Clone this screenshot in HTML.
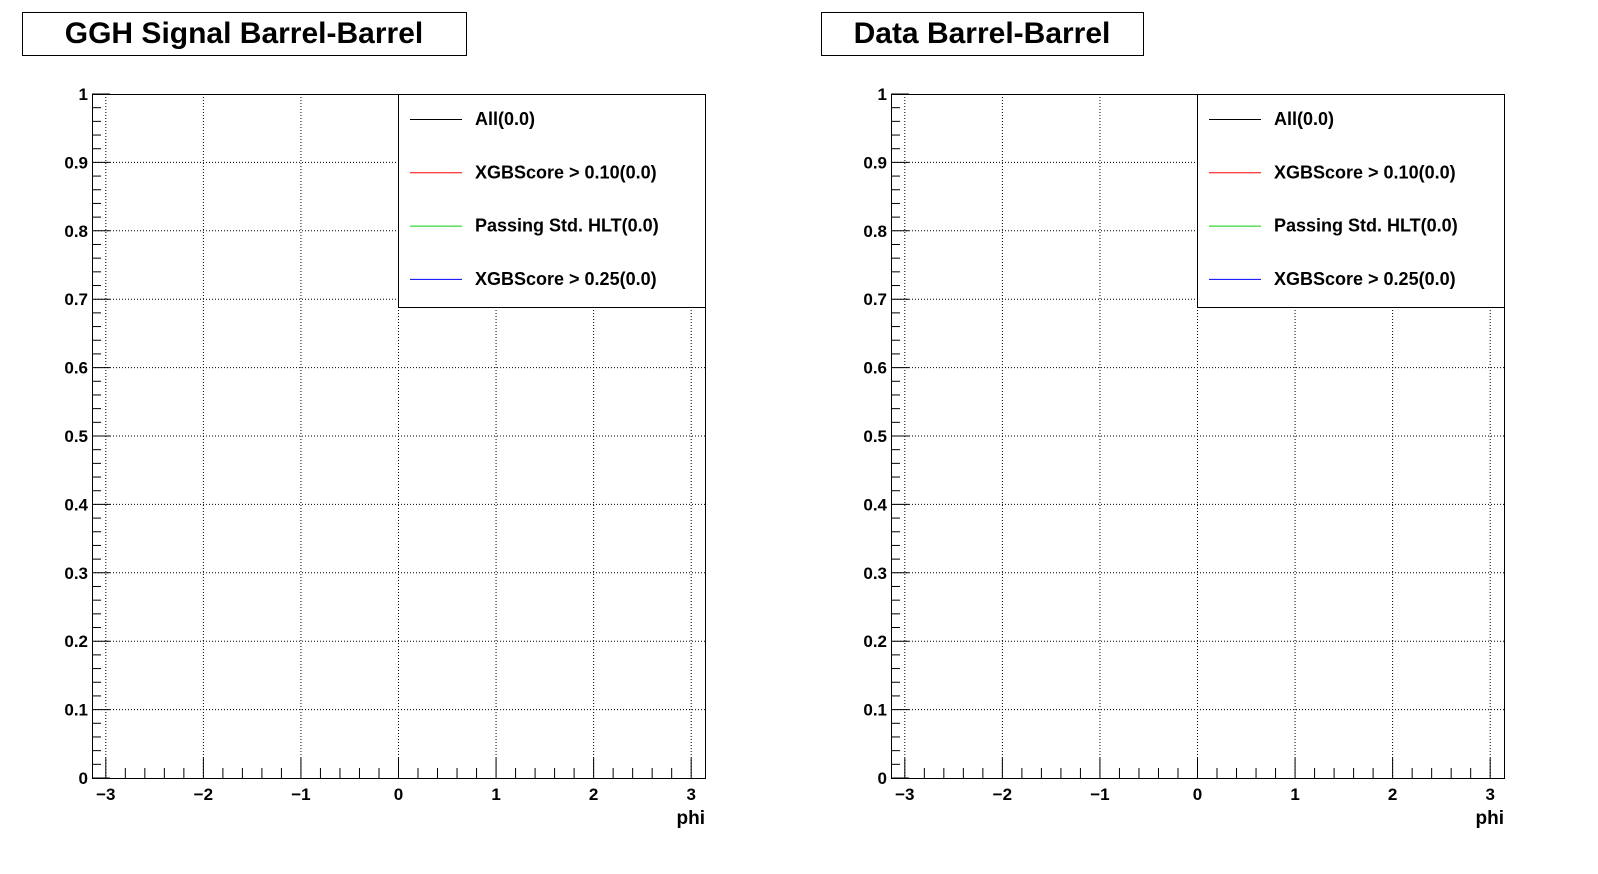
<!DOCTYPE html>
<html><head><meta charset="utf-8"><style>
html,body{margin:0;padding:0;background:#fff;}
svg{display:block;font-family:"Liberation Sans",Arial,sans-serif;font-weight:bold;}
</style></head><body>
<svg id="c" width="1598" height="874" viewBox="0 0 1598 874" xmlns="http://www.w3.org/2000/svg"></svg>
<script>
const panelTitles = ["GGH Signal Barrel-Barrel", "Data Barrel-Barrel"];
const xTicks = [-3, -2, -1, 0, 1, 2, 3];
const xTickLabels = ["\u22123", "\u22122", "\u22121", "0", "1", "2", "3"];
const yTicks = [0, 0.1, 0.2, 0.3, 0.4, 0.5, 0.6, 0.7, 0.8, 0.9, 1];
const yTickLabels = ["0", "0.1", "0.2", "0.3", "0.4", "0.5", "0.6", "0.7", "0.8", "0.9", "1"];
const seriesNames = ["All(0.0)", "XGBScore > 0.10(0.0)", "Passing Std. HLT(0.0)", "XGBScore > 0.25(0.0)"];
const seriesColors = ["#000000", "#ff0000", "#00cc00", "#0000ff"];
const xMin = -Math.PI, xMax = Math.PI, yMin = 0, yMax = 1;

const NS = "http://www.w3.org/2000/svg";
const svg = document.getElementById("c");
function mk(tag, attrs, parent, text) {
  const e = document.createElementNS(NS, tag);
  for (const k in attrs) e.setAttribute(k, attrs[k]);
  if (text !== undefined) e.textContent = text;
  (parent || svg).appendChild(e);
  return e;
}
const panels = [
  {ox: 0, titleX: 22, titleW: 444},
  {ox: 799, titleX: 821, titleW: 322}
];
panels.forEach((p, pi) => {
  const g = mk("g", {});
  
  
  const L = 92 + p.ox, R = 705 + p.ox, T = 94, B = 778;
  const sx = v => L + (v - xMin) / (xMax - xMin) * (R - L);
  const sy = v => B - (v - yMin) / (yMax - yMin) * (B - T);
  const tb = mk("rect", {x: p.titleX + 0.5, y: 12.5, width: p.titleW, height: 43, fill: "#fff", stroke: "#000", "stroke-width": 1}, g);
  
  
  const tt = mk("text", {x: p.titleX + p.titleW / 2, y: 43, "font-size": 30, "text-anchor": "middle"}, g, panelTitles[pi]);
  
  
  xTicks.forEach(v => {
    const l = mk("line", {x1: sx(v), x2: sx(v), y1: T, y2: B, stroke: "#000", "stroke-width": 1, "stroke-dasharray": "1,2"}, g);
    
    
  });
  yTicks.forEach(v => {
    if (v === yMin || v === yMax) return;
    const l = mk("line", {x1: L, x2: R, y1: sy(v), y2: sy(v), stroke: "#000", "stroke-width": 1, "stroke-dasharray": "1,2"}, g);
    
    
  });
  const fr = mk("rect", {x: L + 0.5, y: T + 0.5, width: R - L, height: B - T, fill: "none", stroke: "#000", "stroke-width": 1}, g);
  
  
  for (let i = -15; i <= 15; i++) {
    const v = i * 0.2;
    const major = i % 5 === 0;
    mk("line", {x1: sx(v), x2: sx(v), y1: B, y2: B - (major ? 20 : 10), stroke: "#000", "stroke-width": 1}, g);
  }
  xTicks.forEach((v, i) => {
    const t = mk("text", {x: sx(v), y: B + 22, "font-size": 17, "text-anchor": "middle"}, g, xTickLabels[i]);
    
    
  });
  for (let i = 0; i <= 50; i++) {
    const v = i * 0.02;
    const major = i % 5 === 0;
    mk("line", {x1: L, x2: L + (major ? 18 : 9), y1: sy(v), y2: sy(v), stroke: "#000", "stroke-width": 1}, g);
  }
  yTicks.forEach((v, i) => {
    const t = mk("text", {x: L - 4, y: sy(v) + 6, "font-size": 17, "text-anchor": "end"}, g, yTickLabels[i]);
    
    
  });
  const xt = mk("text", {x: R, y: 824, "font-size": 19, "text-anchor": "end"}, g, "phi");
  
  
  const lg = mk("g", {}, g);
  
  
  mk("rect", {x: 398 + p.ox + 0.5, y: T + 0.5, width: R - 398 - p.ox, height: 213, fill: "#fff", stroke: "#000", "stroke-width": 1}, lg);
  seriesNames.forEach((n, i) => {
    const y = 119 + i * 53.3;
    const e = mk("g", {}, lg);
    
    
    mk("line", {x1: 410 + p.ox, x2: 462 + p.ox, y1: y + 0.5, y2: y + 0.5, stroke: seriesColors[i], "stroke-width": 1}, e);
    mk("text", {x: 475 + p.ox, y: y + 6, "font-size": 18}, e, n);
  });
});
</script>
</body></html>
